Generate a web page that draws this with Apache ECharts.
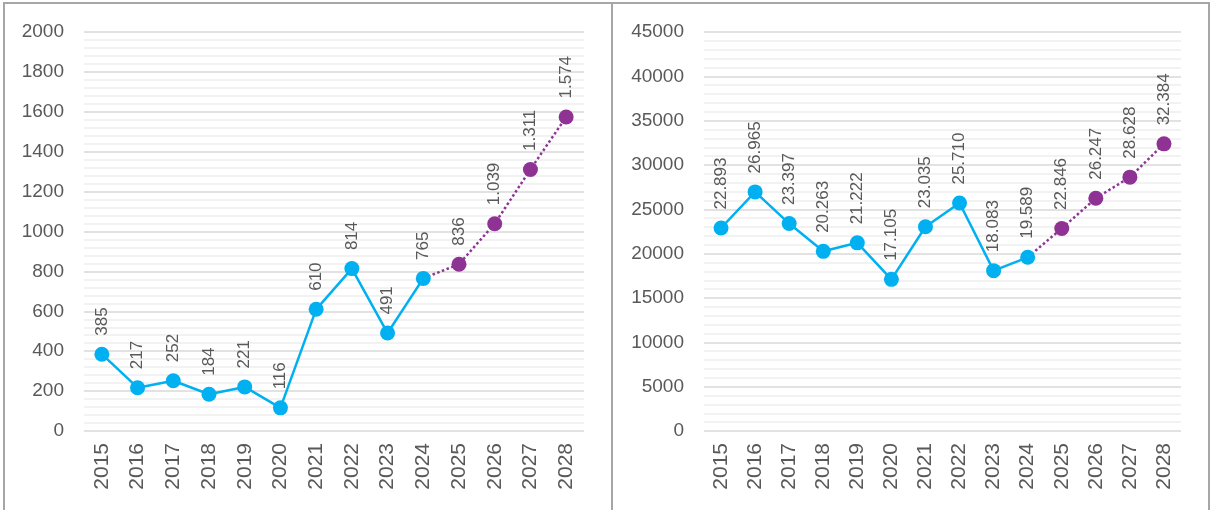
<!DOCTYPE html>
<html>
<head>
<meta charset="utf-8">
<script src="https://cdn.jsdelivr.net/npm/echarts@6/dist/echarts.min.js"></script>
<style>
  html, body { margin: 0; padding: 0; background: #fff; overflow: hidden; }
  #chart { position: absolute; left: 0; top: 0; width: 1211px; height: 510px; }
  .frame { position: absolute; left: 3px; top: 2px; width: 1207px; height: 600px; border: 2px solid #a6a6a6; box-sizing: border-box; }
  .divider { position: absolute; left: 611px; top: 2px; width: 2px; height: 600px; background: #a6a6a6; }
</style>
</head>
<body>
<div id="chart"></div>
<div class="frame"></div>
<div class="divider"></div>
<script>
  // categories
  var years = ['2015', '2016', '2017', '2018', '2019', '2020', '2021', '2022', '2023', '2024', '2025', '2026', '2027', '2028']

  // left panel
  var leftActual = [385, 217, 252, 184, 221, 116, 610, 814, 491, 765]
  var leftForecast = [836, 1039, 1311, 1574]

  // right panel
  var rightActual = [22893, 26965, 23397, 20263, 21222, 17105, 23035, 25710, 18083, 19589]
  var rightForecast = [22846, 26247, 28628, 32384]

  var blue = '#00b0f0'
  var purple = '#8e3394'
  var textColor = '#595959'
  var font = '"Liberation Sans", Arial, sans-serif'

  //千位分隔符用点
  function fmt (v) {
    return String(v).replace(/\B(?=(\d{3})+(?!\d))/g, '.')
  }

  function actualData (arr) {
    var out = arr.slice()
    while (out.length < years.length) out.push(null)
    return out
  }

  function forecastData (actual, forecast) {
    var out = []
    for (var i = 0; i < actual.length - 1; i++) out.push(null)
    out.push({value: actual[actual.length - 1], symbol: 'none', label: {show: false}})
    return out.concat(forecast)
  }

  var labelStyle = {
    show: true,
    position: 'top',
    rotate: 90,
    align: 'left',
    verticalAlign: 'middle',
    distance: 11,
    fontSize: 17,
    fontFamily: font,
    color: textColor,
    formatter: function (p) { return fmt(p.value) }
  }

  function xAxis (idx) {
    return {
      type: 'category',
      gridIndex: idx,
      data: years,
      boundaryGap: true,
      axisLine: {show: false},
      axisTick: {show: false},
      axisLabel: {rotate: 90, margin: 12, fontSize: 21, fontFamily: font, color: textColor}
    }
  }

  function yAxis (idx, max, interval) {
    return {
      type: 'value',
      gridIndex: idx,
      min: 0,
      max: max,
      interval: interval,
      axisLine: {show: false},
      axisTick: {show: false},
      axisLabel: {margin: 20, fontSize: 19, fontFamily: font, color: textColor, formatter: function (v) { return String(v) }},
      splitLine: {lineStyle: {color: '#d9d9d9', width: 1.5}},
      minorTick: {show: false, splitNumber: 5},
      minorSplitLine: {show: true, lineStyle: {color: '#eeeeee', width: 1.5}}
    }
  }

  function series (idx, actual, forecast) {
    return [
      {
        type: 'line',
        xAxisIndex: idx,
        yAxisIndex: idx,
        data: forecastData(actual, forecast),
        symbol: 'circle',
        symbolSize: 15,
        itemStyle: {color: purple},
        lineStyle: {color: purple, width: 2.5, type: 'dotted'},
        label: labelStyle,
        animation: false
      },
      {
        type: 'line',
        xAxisIndex: idx,
        yAxisIndex: idx,
        data: actualData(actual),
        symbol: 'circle',
        symbolSize: 15,
        itemStyle: {color: blue},
        lineStyle: {color: blue, width: 2.5},
        label: labelStyle,
        animation: false
      }
    ]
  }

  var myChart = echarts.init(document.getElementById('chart'))
  var option = {
    animation: false,
    grid: [
      {left: 84, width: 500, top: 32, bottom: 79},
      {left: 704, width: 477, top: 32, bottom: 79}
    ],
    xAxis: [xAxis(0), xAxis(1)],
    yAxis: [yAxis(0, 2000, 200), yAxis(1, 45000, 5000)],
    series: series(0, leftActual, leftForecast).concat(series(1, rightActual, rightForecast))
  }
  myChart.setOption(option)
</script>
</body>
</html>
